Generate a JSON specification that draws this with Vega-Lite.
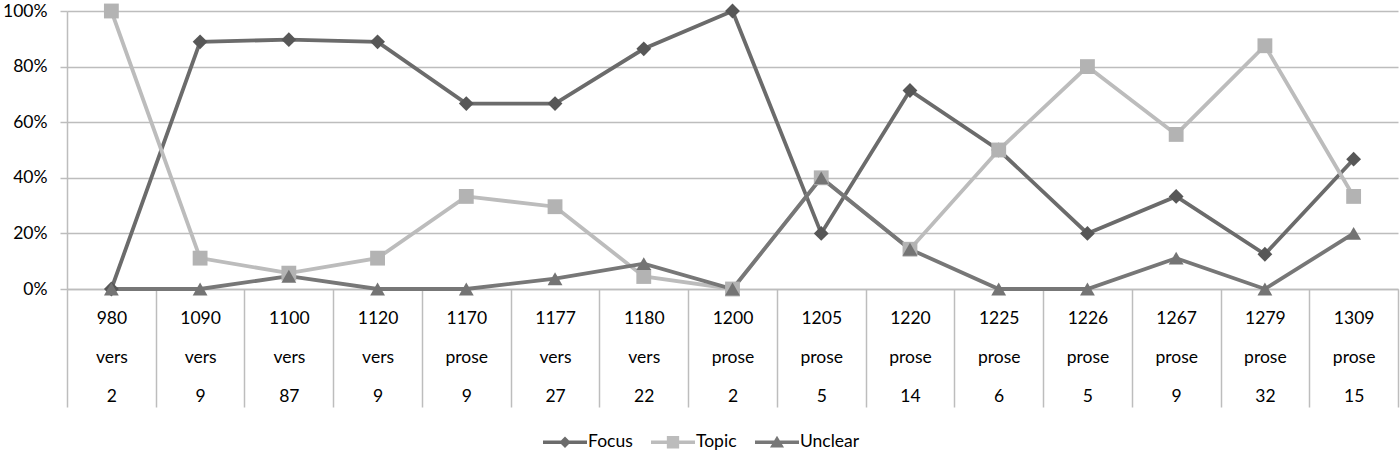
{
  "$schema": "https://vega.github.io/schema/vega-lite/v6.json",
  "width": 1331,
  "height": 278,
  "autosize": {"type": "none"},
  "padding": {"left": 67, "top": 11, "right": 2, "bottom": 165},
  "background": "white",
  "config": {
    "view": {"stroke": null},
    "font": "Lato",
    "axis": {"labelFont": "Lato", "labelColor": "#000000", "labelFontSize": 17.5},
    "legend": {"labelFont": "Lato", "labelColor": "#000000", "labelFontSize": 17.5}
  },
  "data": {
    "values": [
      {"year": "980", "form": "vers", "n": 2, "Focus": 0, "Topic": 1, "Unclear": 0},
      {"year": "1090", "form": "vers", "n": 9, "Focus": 0.889, "Topic": 0.111, "Unclear": 0},
      {"year": "1100", "form": "vers", "n": 87, "Focus": 0.897, "Topic": 0.057, "Unclear": 0.046},
      {"year": "1120", "form": "vers", "n": 9, "Focus": 0.889, "Topic": 0.111, "Unclear": 0},
      {"year": "1170", "form": "prose", "n": 9, "Focus": 0.667, "Topic": 0.333, "Unclear": 0},
      {"year": "1177", "form": "vers", "n": 27, "Focus": 0.667, "Topic": 0.296, "Unclear": 0.037},
      {"year": "1180", "form": "vers", "n": 22, "Focus": 0.864, "Topic": 0.045, "Unclear": 0.091},
      {"year": "1200", "form": "prose", "n": 2, "Focus": 1, "Topic": 0, "Unclear": 0},
      {"year": "1205", "form": "prose", "n": 5, "Focus": 0.2, "Topic": 0.4, "Unclear": 0.4},
      {"year": "1220", "form": "prose", "n": 14, "Focus": 0.714, "Topic": 0.143, "Unclear": 0.143},
      {"year": "1225", "form": "prose", "n": 6, "Focus": 0.5, "Topic": 0.5, "Unclear": 0},
      {"year": "1226", "form": "prose", "n": 5, "Focus": 0.2, "Topic": 0.8, "Unclear": 0},
      {"year": "1267", "form": "prose", "n": 9, "Focus": 0.333, "Topic": 0.556, "Unclear": 0.111},
      {"year": "1279", "form": "prose", "n": 32, "Focus": 0.125, "Topic": 0.875, "Unclear": 0},
      {"year": "1309", "form": "prose", "n": 15, "Focus": 0.467, "Topic": 0.333, "Unclear": 0.2}
    ]
  },
  "transform": [
    {"calculate": "datum.year + '|' + datum.form + '|' + datum.n", "as": "cat"},
    {"fold": ["Focus", "Topic", "Unclear"], "as": ["series", "value"]}
  ],
  "encoding": {
    "x": {
      "field": "cat",
      "type": "nominal",
      "sort": null,
      "scale": {"paddingInner": 0, "paddingOuter": 0},
      "axis": {
        "title": null,
        "domain": true,
        "domainColor": "#bdbdbd",
        "domainWidth": 1.5,
        "ticks": true,
        "tickBand": "extent",
        "tickSize": 118,
        "tickColor": "#bdbdbd",
        "tickWidth": 1.5,
        "labelAngle": 0,
        "labelAlign": "center",
        "labelBaseline": "top",
        "labelExpr": "split(datum.label, '|')",
        "labelLineHeight": 39,
        "labelPadding": -98,
        "grid": false
      }
    },
    "y": {
      "field": "value",
      "type": "quantitative",
      "scale": {"domain": [0, 1], "nice": false},
      "axis": {
        "title": null,
        "values": [0, 0.2, 0.4, 0.6, 0.8, 1],
        "format": ".0%",
        "grid": true,
        "gridColor": "#bdbdbd",
        "gridWidth": 1.5,
        "domain": true,
        "domainColor": "#bdbdbd",
        "domainWidth": 1.5,
        "ticks": true,
        "tickSize": 7,
        "tickColor": "#bdbdbd",
        "tickWidth": 1.5,
        "labelPadding": 13
      }
    }
  },
  "layer": [
    {
      "mark": {"type": "line", "strokeWidth": 3.8},
      "encoding": {
        "color": {
          "field": "series",
          "type": "nominal",
          "scale": {"domain": ["Focus", "Topic", "Unclear"], "range": ["#6b6b6b", "#bcbcbc", "#777777"]}
        }
      }
    },
    {
      "mark": {"type": "point", "filled": true, "opacity": 1, "size": 220, "strokeWidth": 0},
      "encoding": {
        "shape": {
          "condition": [
            {"test": "datum.series === 'Focus'", "value": "diamond"},
            {"test": "datum.series === 'Topic'", "value": "square"}
          ],
          "value": "triangle-up"
        },
        "color": {
          "condition": [
            {"test": "datum.series === 'Focus'", "value": "#575757"},
            {"test": "datum.series === 'Topic'", "value": "#b3b3b3"}
          ],
          "value": "#747474"
        }
      }
    },
    {
      "transform": [{"filter": "false"}],
      "mark": {"type": "point", "filled": true, "opacity": 1},
      "encoding": {
        "color": {
          "field": "series",
          "type": "nominal",
          "legend": {
            "title": null,
            "orient": "none",
            "legendX": 476,
            "legendY": 409,
            "direction": "horizontal",
            "symbolSize": 1936,
            "symbolStrokeWidth": 0,
            "symbolOpacity": 1,
            "labelOffset": 1,
            "columnPadding": 18,
            "padding": 0
          }
        },
        "shape": {
          "field": "series",
          "type": "nominal",
          "scale": {
            "domain": ["Focus", "Topic", "Unclear"],
            "range": [
              "M-1,-0.08L1,-0.08L1,0.08L-1,0.08Z M0,-0.26L0.26,0L0,0.26L-0.26,0Z",
              "M-1,-0.08L1,-0.08L1,0.08L-1,0.08Z M-0.28,-0.28L0.28,-0.28L0.28,0.28L-0.28,0.28Z",
              "M-1,-0.08L1,-0.08L1,0.08L-1,0.08Z M0,-0.3L0.32,0.24L-0.32,0.24Z"
            ]
          }
        }
      }
    }
  ]
}
